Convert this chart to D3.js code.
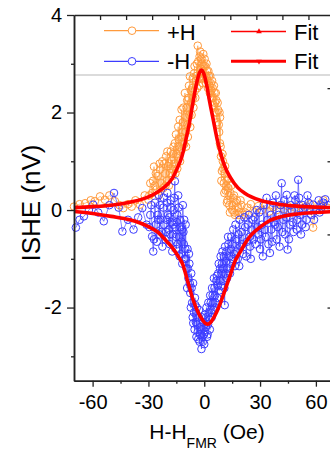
<!DOCTYPE html>
<html>
<head>
<meta charset="utf-8">
<script src="https://cdn.jsdelivr.net/npm/d3@7"></script>
<style>
  html, body { margin: 0; padding: 0; background: #fff; }
  svg { display: block; font-family: Arial, "Liberation Sans", sans-serif; }
</style>
</head>
<body>
<div id="chart"></div>
<script>
// measured points, [H-H_FMR (Oe), ISHE (nV)]
const plusH = [
  [-70,0.07],[-67,0.12],[-64,0.14],[-61,0.2],[-58.8,0.18],[-56,0.28],[-53.4,0.21],[-51,0.3],[-48,0.18],
  [-45.5,0.1],[-43.5,0.04],[-41,0.12],[-39,0.07],[-37,0.2],[-34.6,0.11],[-32,0.3],[-30,0.21],[-29,0.55],
  [-28,0.35],[-27,0.89],[-26.5,0.5],[-25.6,0.42],[-25,0.7],[-24.5,0.3],[-23.8,0.83],[-23,0.55],[-22.5,1.0],
  [-22,0.45],[-21,0.75],[-20.5,1.1],[-20,0.6],[-19.5,0.9],[-19,0.5],[-18.4,0.76],[-18,1.2],[-17.5,1.03],
  [-17,0.7],[-16.5,1.3],[-16,0.95],[-15.8,1.37],[-15,1.15],[-14.5,0.85],[-14,1.71],[-13.5,1.3],[-13,1.0],
  [-12.5,1.5],[-12.2,2.06],[-12,1.25],[-11.5,1.8],[-11,1.4],[-10.4,2.4],[-10,1.6],[-9.5,2.1],[-9,1.75],
  [-8.5,2.3],[-8,1.95],[-7.7,2.74],[-7,2.2],[-6.5,2.5],[-6,2.3],[-5.5,2.8],[-5,2.45],[-4.5,2.65],[-4,3.0],
  [-3.5,3.37],[-3,2.7],[-2.5,3.15],[-2,2.9],[-1.5,3.1],[-1,2.85],[-0.5,3.2],[0,2.7],[0.5,2.95],[1,2.6],
  [1.5,2.85],[2,2.5],[2.5,2.75],[3,2.4],[3.5,2.6],[4,2.3],[4.5,2.5],[5,2.15],[5.5,2.4],[6,2.0],[6.5,2.25],
  [7,1.8],[7.5,2.05],[8,1.6],[8.4,1.37],[8.5,1.9],[9,1.1],[9.5,0.8],[10,1.0],[10.5,0.55],[11,0.75],
  [11.5,0.4],[12,0.6],[12.5,0.2],[13,0.45],[13.5,0.1],[14,0.35],[15,0.0],[15.5,0.25],[16.5,-0.1],[17,0.15],
  [18,0.05],[19,-0.05],[20,0.1],[21,-0.1],[23,0.05],[25,0.12],[27,-0.05],[29,0.08],[31,0.0],[33,0.1],
  [35,-0.03],[37,0.06],[39,0.0],[41,0.1],[43,0.02],[45,0.08],[47,-0.02],[49,0.05],[51,0.1],[53,0.0],
  [55,0.07],[57,0.12],[58.5,-0.36],[60,0.0],[62,0.1],[64,0.2],[66,0.05],
  // second pass through the peak
  [-29.5,0.3],[-27.5,0.6],[-26,0.75],[-24,0.95],[-23.5,0.4],[-21.5,0.95],[-20.8,0.5],[-19.8,1.2],
  [-18.8,0.95],[-17.8,0.85],[-16.8,1.15],[-15.5,0.75],[-15.2,1.55],[-14.2,1.1],[-13.8,1.45],[-13.2,1.85],
  [-12.8,1.2],[-11.8,1.6],[-11.2,2.1],[-10.8,1.35],[-10.2,1.9],[-9.8,1.3],[-9.2,2.25],[-8.8,1.5],
  [-8.2,2.55],[-7.5,1.7],[-7.2,2.45],[-6.8,1.95],[-6.2,2.7],[-5.8,2.1],[-5.2,2.95],[-4.8,2.3],[-4.2,2.75],
  [-3.8,2.5],[-3.2,3.05],[-2.8,2.55],[-2.2,3.25],[-1.8,2.7],[-1.2,3.0],[-0.8,2.6],[-0.2,2.95],[0.2,3.1],
  [0.8,2.75],[1.2,3.0],[1.8,2.65],[2.2,2.85],[2.8,2.55],[3.2,2.75],[3.8,2.45],[4.2,2.65],[4.8,2.3],
  [5.2,2.55],[5.8,2.2],[6.2,2.4],[6.8,2.0],[7.2,2.2],[7.8,1.75],[8.2,2.0],[8.8,1.3],[9.2,0.6],[9.8,1.15],
  [10.2,0.85],[10.8,0.35],[11.2,0.9],[11.8,0.5],[12.2,0.15],[12.8,0.65],[13.2,0.3],[13.8,-0.05],
  [14.5,0.5],[15.2,0.1],[16,0.3],[16.2,-0.05],[17.5,0.2],[18.5,-0.1],[19.5,0.2],[22,-0.05]
];

const minusH = [
  [-69,-0.36],[-67,-0.2],[-64.7,-0.13],[-62,0.0],[-59.7,0.11],[-57,-0.05],[-54,-0.23],[-51,0.1],[-48.5,0.35],
  [-46,0.05],[-44,-0.44],[-41,-0.2],[-38,-0.4],[-35.5,-0.15],[-33.3,0.04],[-31,-0.3],[-29,-0.1],[-28,-0.54],
  [-27.4,-0.85],[-26,-0.3],[-25,-0.1],[-24.4,0.31],[-23.5,-0.2],[-23,-0.45],[-22,0.05],[-21.5,-0.3],[-21,-0.6],
  [-20,0.15],[-19.5,-0.1],[-19,-0.4],[-18.5,-0.7],[-18,0.2],[-17.5,-0.25],[-17,-0.5],[-16.5,0.0],[-15.8,0.59],
  [-15.5,-0.35],[-15,-0.8],[-14.5,-0.1],[-14,0.3],[-13.5,-0.55],[-13,-0.2],[-12.5,-0.9],[-12,-0.4],[-11.5,0.1],
  [-11,-0.7],[-10.5,-1.0],[-10,-0.3],[-9.5,-1.2],[-9,-0.8],[-8.5,-1.4],[-8,-1.1],[-7.5,-1.7],[-7,-1.3],
  [-6.5,-1.9],[-6,-1.5],[-5.9,-2.32],[-5.5,-2.1],[-5,-1.8],[-4.5,-2.3],[-4,-2.0],[-3.5,-2.5],[-3,-2.2],
  [-2.5,-2.7],[-2,-2.4],[-1.5,-2.85],[-1,-2.6],[-0.5,-2.3],[0,-2.75],[0.5,-2.5],[1,-2.2],[1.5,-2.6],[2,-2.35],
  [2.5,-2.1],[3,-2.45],[3.5,-1.9],[4,-2.2],[4.5,-1.75],[5,-2.05],[5.5,-1.6],[6,-1.9],[6.5,-1.45],[7,-1.8],
  [7.5,-1.3],[8,-1.65],[8.5,-1.2],[9,-1.55],[9.5,-1.1],[10,-1.45],[10.5,-0.95],[11,-1.95],[11.5,-1.3],
  [12,-0.85],[12.5,-1.2],[13,-0.7],[14,-1.1],[14.5,-0.55],[15,-1.0],[15.6,-0.4],[16,-0.9],[17,-0.6],[18,-1.0],
  [19,-0.2],[19.5,-0.75],[20,-0.45],[21,-0.9],[22,-0.35],[23,-0.65],[24,-0.1],[24.6,-0.75],[25.5,-0.4],
  [26.5,-0.6],[27,-0.15],[28.2,0.0],[29,-0.5],[30,-0.8],[31,-0.3],[32,0.1],[33,-0.55],[34,-0.2],[35.3,-0.88],
  [36,-0.4],[37,0.15],[38,-0.3],[39,-0.6],[40,-0.1],[41.6,0.55],[42.5,-0.2],[43.5,-0.5],[44.3,0.31],
  [44.8,-0.81],[46,-0.3],[47,0.0],[48,-0.45],[49,0.2],[49.7,-0.4],[50.5,0.62],[51.5,-0.1],[52.5,-0.3],
  [54,0.05],[55,-0.2],[56,0.15],[57.5,-0.1],[58.6,0.11],[60,0.0],[61.5,0.2],[63,0.05],[65,0.22],[66.5,0.1],
  // second pass
  [-29.5,-0.35],[-28.5,0.1],[-27,-0.6],[-26.5,0.15],[-25.5,-0.65],[-24.8,-0.2],[-24,-0.5],[-23.8,0.1],
  [-22.5,-0.75],[-21.8,0.25],[-20.5,-0.45],[-20.2,-0.2],[-19.8,0.35],[-18.8,-0.15],[-18.2,-0.5],[-17.8,0.05],
  [-17.2,-0.85],[-16.8,-0.3],[-16.2,0.25],[-15.2,-0.55],[-14.8,-0.25],[-14.2,-0.7],[-13.8,0.05],[-13.2,-0.95],
  [-12.8,-0.35],[-12.2,-0.65],[-11.8,-1.1],[-11.2,-0.45],[-10.8,-0.2],[-10.2,-0.8],[-9.8,-1.0],[-9.2,-1.6],
  [-8.8,-1.2],[-8.2,-0.9],[-7.8,-1.5],[-7.2,-2.0],[-6.8,-1.6],[-6.2,-2.2],[-5.2,-2.45],[-4.8,-1.95],
  [-4.2,-2.6],[-3.8,-2.35],[-3.2,-2.65],[-2.8,-2.05],[-2.2,-2.55],[-1.8,-2.45],[-1.2,-2.2],[-0.8,-2.7],
  [-0.2,-2.55],[0.2,-2.15],[0.8,-2.4],[1.2,-2.0],[1.8,-2.55],[2.2,-1.9],[2.8,-2.25],[3.2,-1.75],[3.8,-2.05],
  [4.2,-1.6],[4.8,-1.9],[5.2,-1.4],[5.8,-1.75],[6.2,-2.0],[6.8,-1.35],[7.2,-1.55],[7.8,-1.1],[8.2,-1.45],
  [8.8,-0.95],[9.2,-1.3],[9.8,-0.85],[10.2,-1.2],[10.8,-1.6],[11.2,-0.75],[11.8,-1.05],[12.2,-1.4],
  [12.8,-0.55],[13.5,-0.95],[13.8,-1.3],[14.2,-0.8],[15.3,-0.7],[16.5,-1.15],[16.8,-0.3],[17.5,-0.85],
  [18.5,-0.5],[18.8,-1.15],[20.5,-0.7],[21.5,-0.15],[22.5,-0.95],[23.5,-0.3],[24.3,-0.55],[25,-1.0],
  [26,-0.2],[27.5,-0.7],[28.6,-0.35],[29.5,-0.05],[30.5,-0.6],[31.5,-0.95],[32.5,-0.4],[33.5,0.25],
  [34.5,-0.7],[35.8,-0.1],[36.5,-0.65],[37.5,-0.25],[38.5,0.3],[39.5,-0.35],[40.5,-0.75],[41,0.1],
  [42,-0.45],[43,0.2],[44,-0.15],[45.5,-0.6],[46.5,0.1],[47.5,-0.25],[48.5,0.3],[50,-0.2],[51,0.25],
  [52,-0.5],[53,0.1],[54.5,-0.35],[55.5,0.3],[57,0.0],[59,-0.2],[62,-0.05],[64,0.15]
];

// fit curves
const fitPlus = [
  [-70,0.05],[-60,0.07],[-50,0.1],[-40,0.16],[-30,0.27],[-25,0.37],[-20,0.52],[-17,0.66],[-14,0.9],
  [-12,1.1],[-10,1.42],[-8,1.78],[-6,2.22],[-4,2.62],[-2.5,2.82],[-1.5,2.87],[-0.5,2.82],[1,2.62],
  [3,2.2],[5,1.82],[7,1.44],[9,1.14],[11,0.9],[14,0.67],[18,0.46],[22,0.34],[30,0.2],[40,0.12],
  [50,0.08],[60,0.06],[70,0.05]
];
const fitMinus = [
  [-70,-0.03],[-60,-0.07],[-50,-0.13],[-40,-0.2],[-30,-0.34],[-25,-0.45],[-20,-0.65],[-17,-0.78],
  [-14,-0.95],[-11.5,-1.12],[-9,-1.45],[-6,-1.84],[-3,-2.12],[-1,-2.25],[0.5,-2.32],[2,-2.34],[3.5,-2.3],
  [5.5,-2.18],[7.5,-2.02],[9.5,-1.82],[12,-1.55],[14,-1.33],[16.5,-1.05],[19,-0.88],[22,-0.68],
  [25,-0.52],[30,-0.35],[35,-0.22],[42,-0.13],[50,-0.08],[60,-0.05],[70,-0.03]
];

const xTicks = [-60, -30, 0, 30, 60];
const xMinorTicks = [-45, -15, 15, 45];
const yTicks = [-2, 0, 2, 4];
const yMinorTicks = [-3, -1, 1, 3];
const topTicks = [-56, -42, -28, -14, 0, 14, 28, 42, 56];
const rightTicks = [-2, -0.5, 1, 2.5];

const orange = '#ff9a3c';
const blue = '#3c3cff';

const width = 330, height = 450;
const plotLeft = 74, plotRight = 334.5, plotTop = 15, plotBottom = 380.7;

const svg = d3.select('#chart').append('svg')
    .attr('width', width)
    .attr('height', height);

svg.append('rect').attr('width', width).attr('height', height).attr('fill', '#fff');

const x = d3.scaleLinear().domain([-70, 70]).range([plotLeft, plotRight]);
const y = d3.scaleLinear().domain([-3.5, 4]).range([plotBottom, plotTop]);

// legend frame edge
svg.append('line')
    .attr('x1', plotLeft).attr('x2', width)
    .attr('y1', 75).attr('y2', 75)
    .attr('stroke', '#cfcfcf').attr('stroke-width', 1.5);

const line = d3.line().x(d => x(d[0])).y(d => y(d[1]));

function drawSeries(data, color) {
    const pts = data.slice().sort((a, b) => a[0] - b[0]);
    const g = svg.append('g');
    g.append('path')
        .attr('d', line(pts))
        .attr('fill', 'none')
        .attr('stroke', color)
        .attr('stroke-width', 0.8)
        .attr('opacity', 0.8);
    g.selectAll('circle')
        .data(pts)
        .enter()
        .append('circle')
        .attr('cx', d => x(d[0]))
        .attr('cy', d => y(d[1]))
        .attr('r', 3.8)
        .attr('fill', 'none')
        .attr('stroke', color)
        .attr('stroke-width', 1);
}

drawSeries(plusH, orange);
drawSeries(minusH, blue);

const fitLine = d3.line().curve(d3.curveMonotoneX).x(d => x(d[0])).y(d => y(d[1]));
[fitPlus, fitMinus].forEach(f => {
    svg.append('path')
        .attr('d', fitLine(f))
        .attr('fill', 'none')
        .attr('stroke', '#ff0000')
        .attr('stroke-width', 3.6)
        .attr('stroke-linejoin', 'round');
});

// axes
function styleAxis(g) {
    g.select('.domain').attr('stroke', '#222').attr('stroke-width', 1.5);
    g.selectAll('.tick line').attr('stroke', '#222').attr('stroke-width', 1.3);
    g.selectAll('.tick text').attr('fill', '#000').attr('font-size', 20)
        .attr('font-family', 'Arial, "Liberation Sans", sans-serif');
}

svg.append('g')
    .attr('transform', `translate(0,${plotBottom})`)
    .call(d3.axisBottom(x).tickValues(xTicks).tickSize(6).tickPadding(8).tickSizeOuter(0))
    .call(styleAxis);
svg.append('g')
    .attr('transform', `translate(0,${plotBottom})`)
    .call(d3.axisBottom(x).tickValues(xMinorTicks).tickSize(3).tickFormat('').tickSizeOuter(0))
    .call(styleAxis);

svg.append('g')
    .attr('transform', `translate(${plotLeft},0)`)
    .call(d3.axisLeft(y).tickValues(yTicks).tickSize(7).tickPadding(5).tickSizeOuter(0))
    .call(styleAxis);
svg.append('g')
    .attr('transform', `translate(${plotLeft},0)`)
    .call(d3.axisLeft(y).tickValues(yMinorTicks).tickSize(3).tickFormat('').tickSizeOuter(0))
    .call(styleAxis);

svg.append('g')
    .attr('transform', `translate(0,${plotTop})`)
    .call(d3.axisTop(x).tickValues(topTicks).tickSize(-5).tickFormat('').tickSizeOuter(0))
    .call(styleAxis);

svg.append('g')
    .attr('transform', `translate(${plotRight},0)`)
    .call(d3.axisRight(y).tickValues(rightTicks).tickSize(-7).tickFormat('').tickSizeOuter(0))
    .call(styleAxis);

// tick labels use a plain hyphen for minus
svg.selectAll('.tick text').text(function () { return d3.select(this).text().replace('\u2212', '-'); });

// axis titles
const xTitle = svg.append('text')
    .attr('x', 207)
    .attr('y', 439)
    .attr('text-anchor', 'middle')
    .attr('font-size', 21);
xTitle.append('tspan').text('H-H');
xTitle.append('tspan').attr('font-size', 14).attr('dy', 9).text('FMR');
xTitle.append('tspan').attr('dy', -9).text(' (Oe)');

svg.append('text')
    .attr('transform', 'translate(39.5,203) rotate(-90)')
    .attr('text-anchor', 'middle')
    .attr('font-size', 26)
    .text('ISHE (nV)');

// legend
const legend = svg.append('g');
const legendItems = [
    {label: '+H', color: orange, x0: 104, ty: 39.5, ly: 30.7, kind: 'circle'},
    {label: '-H', color: blue, x0: 104, ty: 69, ly: 61.3, kind: 'circle'},
    {label: 'Fit', color: '#ff0000', x0: 231, ty: 39.5, ly: 31.5, kind: 'up', w: 1.6},
    {label: 'Fit', color: '#ff0000', x0: 231, ty: 69, ly: 61.3, kind: 'down', w: 3}
];
legendItems.forEach(it => {
    legend.append('line')
        .attr('x1', it.x0).attr('x2', it.x0 + 55)
        .attr('y1', it.ly).attr('y2', it.ly)
        .attr('stroke', it.color)
        .attr('stroke-width', it.w || 1.2);
    const cx = it.x0 + 28;
    if (it.kind === 'circle') {
        legend.append('circle')
            .attr('cx', cx).attr('cy', it.ly).attr('r', 3.8)
            .attr('fill', '#fff').attr('stroke', it.color).attr('stroke-width', 1);
    } else {
        legend.append('path')
            .attr('d', d3.symbol().type(d3.symbolTriangle).size(14)())
            .attr('transform', `translate(${cx},${it.ly}) rotate(${it.kind === 'up' ? 0 : 180})`)
            .attr('fill', it.color);
    }
    legend.append('text')
        .attr('x', it.x0 + 63)
        .attr('y', it.ty)
        .attr('font-size', 22)
        .text(it.label);
});
</script>
</body>
</html>
